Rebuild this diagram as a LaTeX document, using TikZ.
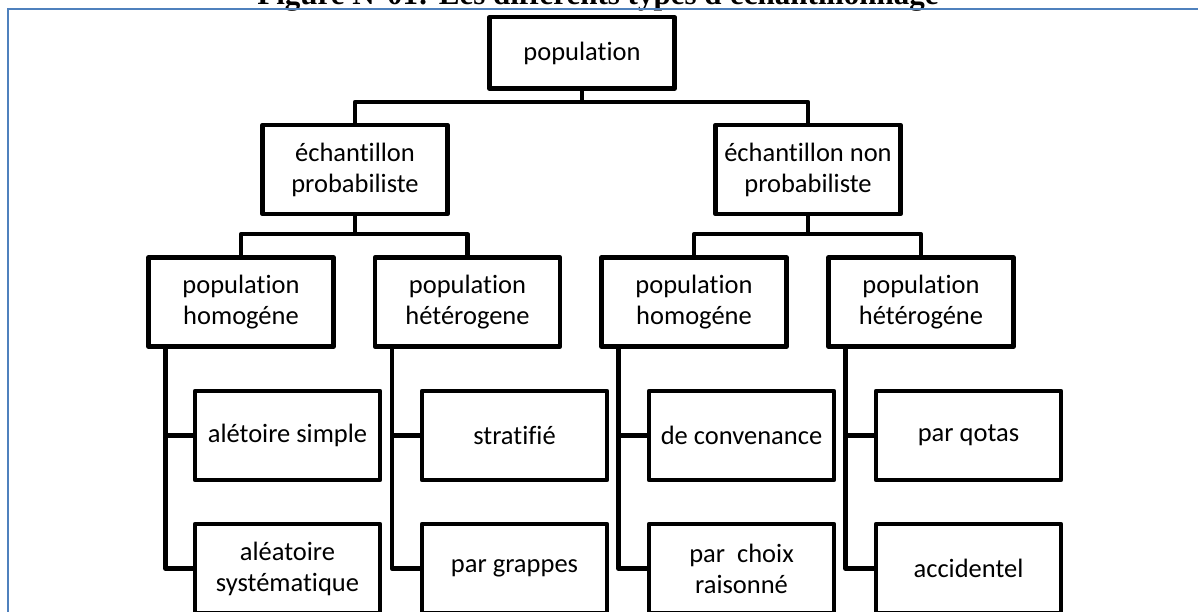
\documentclass[tikz,border=0pt]{standalone}
\usepackage{fontspec}
\setmainfont{Carlito}[Ligatures={NoCommon}]
\newfontfamily\titlefont{Liberation Serif}
\definecolor{frameblue}{HTML}{4F81BD}
\begin{document}
\begin{tikzpicture}[x=1pt,y=-1pt,
  box/.style={draw=black,line width=4.5pt,line join=round,fill=white,align=center,
    font=\fontsize{26.5}{31}\selectfont,minimum width=185pt,minimum height=89pt,inner sep=2pt},
  topbox/.style={box,minimum height=71.5pt},
  link/.style={draw=black,line width=4.5pt,line join=round},
  frame/.style={draw=frameblue,line width=2pt}]
\useasboundingbox (0,0) rectangle (1198,612);
\clip (0,0) rectangle (1198,612);

% caption above the frame
\node[font=\titlefont\bfseries\fontsize{31}{33}\selectfont,anchor=base,inner sep=0pt] (title) at (598,5)
  {Figure N°01: Les différents types d'échantillonnage};
\draw[frame] (8,9) rectangle (1220,640);

% root
\node[topbox] (pop) at (582,53) {population};

% sampling families
\node[box] (ep)  at (355,169.5) {échantillon\\probabiliste};
\node[box] (enp) at (808,169.5) {échantillon non\\probabiliste};

% population kinds
\node[box] (ph1) at (241,302)   {population\\homogéne};
\node[box] (ph2) at (467.5,302) {population\\hétérogene};
\node[box] (ph3) at (694,302)   {population\\homogéne};
\node[box] (ph4) at (921,302)   {population\\hétérogéne};

% methods
\node[box] (c11) at (287.5,435.5) {alétoire simple};
\node[box] (c12) at (287.5,568.5) {aléatoire\\systématique};
\node[box] (c21) at (514.5,435.5) {stratifié};
\node[box] (c22) at (514.5,568.5) {par grappes};
\node[box] (c31) at (741.5,435.5) {de convenance};
\node[box] (c32) at (741.5,568.5) {par\ \ choix\\raisonné};
\node[box] (c41) at (968.5,435.5) {par qotas};
\node[box] (c42) at (968.5,568.5) {accidentel};

% root to families
\draw[link] (pop.south) -- ++(0,11) coordinate (b1);
\draw[link] (ep.north) |- (b1) -| (enp.north);

% families to population kinds
\draw[link] (ep.south) -- ++(0,18) coordinate (b2);
\draw[link] (ph1.north) |- (b2) -| (ph2.north);
\draw[link] (enp.south) -- ++(0,18) coordinate (b3);
\draw[link] (ph3.north) |- (b3) -| (ph4.north);

% population kinds to methods
\foreach \p/\a/\b in {ph1/c11/c12, ph2/c21/c22, ph3/c31/c32, ph4/c41/c42}{
  \draw[link] ([xshift=19pt]\p.south west) |- (\b.west);
  \draw[link] ([xshift=19pt]\p.south west) |- (\a.west);
}
\end{tikzpicture}
\end{document}
